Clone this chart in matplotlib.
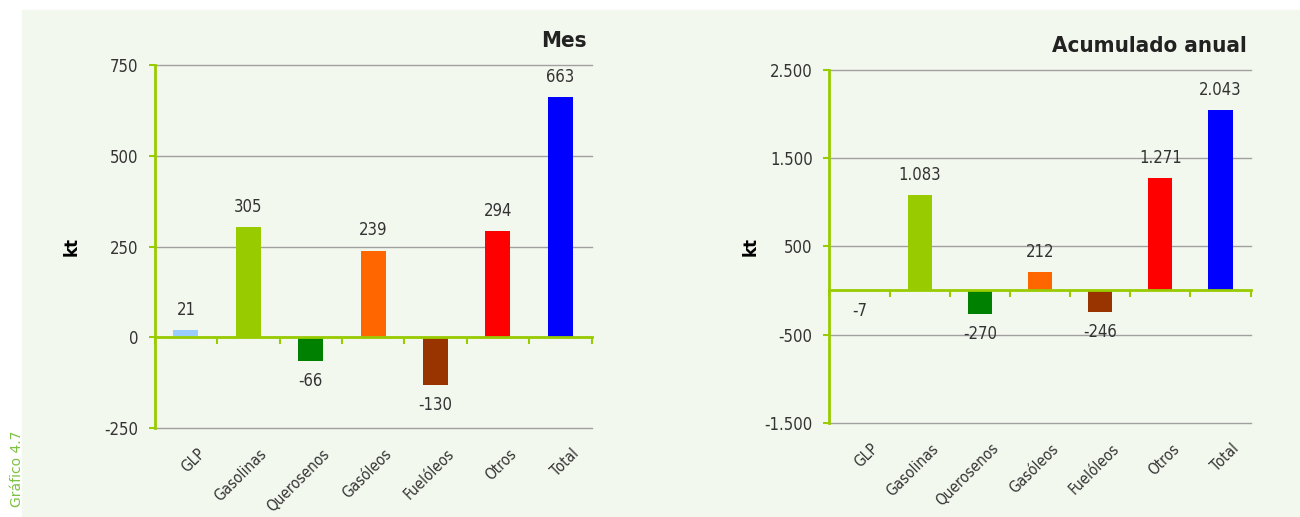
import matplotlib
matplotlib.use('Agg')
import matplotlib.pyplot as plt
from matplotlib.patches import Rectangle
import numpy as np

categorias = ['GLP', 'Gasolinas', 'Querosenos', 'Gasóleos', 'Fuelóleos', 'Otros', 'Total']
mes = [21, 305, -66, 239, -130, 294, 663]
anual = [-7, 1083, -270, 212, -246, 1271, 2043]
colores = ['#99CCFF', '#99CC00', '#008000', '#FF6600', '#993300', '#FF0000', '#0000FF']

ticks_mes = [-250, 0, 250, 500, 750]
ticks_anual = [-1500, -500, 500, 1500, 2500]

VERDE = '#99CC00'
FONDO = '#F3F8EE'
NARROW = ['DejaVu Sans']


def miles(v):
    return '{:,}'.format(int(v)).replace(',', '.')


def panel(ax, valores, ticks, titulo, labx):
    x = np.arange(len(categorias))
    ax.set_facecolor('none')
    ax.bar(x, valores, width=0.4, color=colores, zorder=3)
    ax.set_xlim(-0.5, len(categorias) - 0.5)
    ax.set_ylim(ticks[0], ticks[-1])
    ax.set_yticks(ticks)
    ax.set_yticklabels([miles(t) for t in ticks], family=NARROW, stretch='condensed',
                       fontsize=12, color='#333333')
    for t in ticks:
        ax.axhline(t, color='#A0A0A0', lw=1, zorder=1, clip_on=False)
    for s in ['top', 'right']:
        ax.spines[s].set_visible(False)
    ax.spines['left'].set_color(VERDE)
    ax.spines['left'].set_linewidth(2)
    ax.spines['bottom'].set_position(('data', 0))
    ax.spines['bottom'].set_color(VERDE)
    ax.spines['bottom'].set_linewidth(2)
    ax.spines['bottom'].set_zorder(4)
    ax.set_xticks(np.arange(len(categorias) + 1) - 0.5)
    ax.set_xticklabels([])
    ax.tick_params(axis='x', which='major', direction='out', length=5, color=VERDE, width=1.5)
    ax.tick_params(axis='y', direction='out', length=4, color=VERDE, width=1.5, pad=8)
    for i, v in enumerate(valores):
        if v >= 0:
            ax.annotate(miles(v), (i, v), xytext=(0, 8), textcoords='offset points',
                        ha='center', va='bottom', family=NARROW, stretch='condensed',
                        fontsize=12, color='#333333')
        else:
            ax.annotate(miles(v), (i, v), xytext=(0, -8), textcoords='offset points',
                        ha='center', va='top', family=NARROW, stretch='condensed',
                        fontsize=12, color='#333333')
    for i, c in enumerate(categorias):
        ax.annotate(c, (i, 0), xycoords=('data', 'axes fraction'), xytext=(8, -13),
                    textcoords='offset points', ha='right', va='top', rotation=45,
                    rotation_mode='anchor', family=NARROW, stretch='condensed',
                    fontsize=11, color='#333333')
    ax.set_ylabel('kt', fontweight='bold', fontsize=12)
    ax.yaxis.set_label_coords(labx, 0.5)
    ax.text(0.99, 1.04, titulo, transform=ax.transAxes, ha='right', va='bottom',
            fontsize=16, fontweight='bold', family=NARROW, stretch='condensed',
            color='#222222')


fig = plt.figure(figsize=(13, 5.17), dpi=100)
fig.patches.append(Rectangle((22 / 1300, 0), 1, 1 - 10 / 517, transform=fig.transFigure,
                             color=FONDO, zorder=-10))
fig.text(0.008, 0.02, 'Gráfico 4.7', rotation=90, color='#7DC242', fontsize=10,
         ha='left', va='bottom')

ax1 = fig.add_axes([0.119, 0.172, 0.336, 0.702])
ax2 = fig.add_axes([0.638, 0.182, 0.324, 0.683])
panel(ax1, mes, ticks_mes, 'Mes', -0.17)
panel(ax2, anual, ticks_anual, 'Acumulado anual', -0.165)

fig.savefig('out.png', dpi=100)
